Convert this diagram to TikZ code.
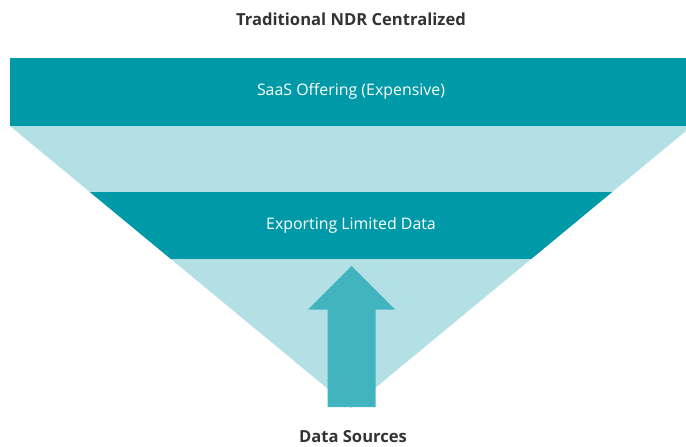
\documentclass[tikz,border=0pt]{standalone}
\usepackage{fontspec}
\setmainfont{Open Sans}
\usepackage{tikz}
\usetikzlibrary{positioning}
\definecolor{tealdark}{HTML}{0099A8}
\definecolor{teallight}{HTML}{B3E0E5}
\definecolor{tealarrow}{HTML}{42B4BF}
\definecolor{textgray}{HTML}{333333}
\tikzset{
    %one px of the reference is one pt here
    x=1pt, y=-1pt,
}

\begin{document}
\begin{tikzpicture}
	\tikzset{
	  band/.style={fill=tealdark},
	  funnel/.style={fill=teallight},
	  lbl/.style={text=white, font=\fontsize{15.9}{18}\selectfont},
	  head/.style={text=textgray, font=\bfseries\fontsize{16.6}{19}\selectfont}
	}
	\useasboundingbox (0,0) rectangle (686,447);

	\coordinate (ftl) at (10,126);
	\coordinate (ftr) at (692,126);
	\coordinate (apex) at (351,408);

	% light funnel with the second band cut from it
	\fill[funnel] (ftl) -- (ftr) -- (apex) -- cycle;
	\begin{scope}
	  \clip (ftl) -- (ftr) -- (apex) -- cycle;
	  \fill[band] (0,192) rectangle (686,259);
	\end{scope}
	\fill[band] (10,58) rectangle (692,126);

	% upward arrow
	\fill[tealarrow] (351.5,266) -- (395,309.5) -- (375.5,309.5) -- (375.5,407)
	      -- (327.5,407) -- (327.5,309.5) -- (308,309.5) -- cycle;

	\node[head] (title) at (351,19) {Traditional NDR Centralized};
	\node[lbl] (saas) at (351,91) {SaaS Offering (Expensive)};
	\node[lbl] (export) at (351,225) {Exporting Limited Data};
	\node[head] (sources) at (353,437) {Data Sources};
\end{tikzpicture}
\end{document}
